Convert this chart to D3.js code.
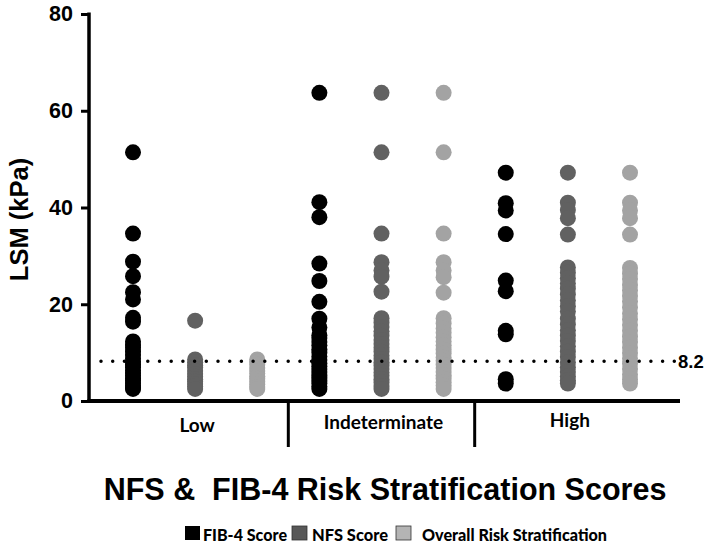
<!DOCTYPE html>
<html>
<head>
<meta charset="utf-8">
<script src="https://cdn.jsdelivr.net/npm/d3@7"></script>
<style>
  html, body { margin: 0; padding: 0; background: #fff; }
  svg { display: block; }
</style>
</head>
<body>
<svg id="chart" width="709" height="546"></svg>
<script>
// ---------------- DATA ----------------
const groups = ["Low", "Indeterminate", "High"];
const seriesNames = ["FIB-4 Score", "NFS Score", "Overall Risk Stratification"];
const yTicks = [0, 20, 40, 60, 80];
const cutoff = 8.2;

// LSM values (kPa) per group: [Low, Indeterminate, High]
const fib4Values = [
  [51.4, 34.6, 28.8, 25.8, 22.5, 21.0, 17.2, 16.4, 12.3, 11.6, 11.0, 10.2, 9.5, 8.8, 8.1, 7.5, 6.9, 6.3, 5.8, 5.2, 4.7, 4.2, 3.7, 3.2, 2.8, 2.5],
  [63.7, 41.1, 38.0, 28.4, 24.8, 20.5, 17.0, 15.2, 13.6, 13.0, 12.2, 11.5, 10.7, 10.0, 9.2, 8.5, 7.8, 7.2, 6.6, 6.0, 5.4, 4.8, 4.2, 3.6, 3.0, 2.5],
  [47.2, 40.9, 39.4, 34.5, 24.9, 22.7, 14.5, 13.8, 4.5, 3.6]
];
const nfsValues = [
  [16.6, 8.6, 8.0, 7.4, 6.9, 6.2, 5.6, 5.0, 4.5, 4.0, 3.5, 3.0, 2.5],
  [63.7, 51.4, 34.6, 28.7, 27.0, 25.7, 22.6, 17.1, 16.2, 15.3, 14.4, 13.5, 12.6, 11.8, 11.0, 10.2, 9.4, 8.7, 8.0, 7.3, 6.6, 5.9, 5.2, 4.5, 3.8, 3.1, 2.5],
  [47.2, 41.0, 39.5, 37.8, 34.4, 27.6, 26.5, 25.4, 24.3, 23.2, 22.0, 20.8, 19.6, 18.5, 17.0, 15.8, 14.6, 13.5, 12.4, 11.3, 10.2, 9.1, 8.0, 7.0, 6.0, 5.1, 4.3, 3.6]
];
const overallValues = [
  [8.6, 8.1, 7.5, 6.8, 6.2, 5.7, 5.1, 4.6, 4.0, 3.4, 2.9, 2.5],
  [63.7, 51.4, 34.6, 28.7, 27.0, 25.6, 22.4, 17.1, 16.0, 15.0, 14.1, 13.2, 12.3, 11.5, 10.6, 9.8, 9.0, 8.3, 7.5, 6.8, 6.0, 5.3, 4.6, 3.9, 3.2, 2.5],
  [47.2, 41.0, 39.4, 37.8, 34.4, 27.5, 26.3, 25.2, 24.0, 22.9, 21.7, 20.6, 19.4, 18.1, 16.9, 15.7, 14.5, 13.3, 12.2, 11.0, 9.9, 8.8, 7.7, 6.6, 5.5, 4.5, 3.6]
];

// ---------------- STYLE ----------------
const seriesColors = ["#000000", "#616161", "#a3a3a3"];
const legendFill = ["#000000", "#585858", "#b4b4b4"];
const dotRadius = 8;
const axisFont = "'Liberation Sans', Arial, sans-serif";
const labelFont = "Lato, 'Open Sans', sans-serif";

// ---------------- BUILD ----------------
const svg = d3.select("#chart");
const allSeries = [fib4Values, nfsValues, overallValues];

const columns = [];
groups.forEach((g, gi) => seriesNames.forEach((s, si) => columns.push({ g, gi, s, si, key: g + "|" + s, values: allSeries[si][gi] })));

const x = d3.scalePoint().domain(columns.map(c => c.key)).range([133, 630]);
const y = d3.scaleLinear().domain([0, 80]).range([401, 14]);

const axisLeftX = 89, axisRightX = 680;

// Dots
const dotsG = svg.append("g");
columns.forEach(c => {
  dotsG.selectAll(null)
    .data(c.values)
    .join("circle")
    .attr("cx", x(c.key))
    .attr("cy", d => y(d))
    .attr("r", dotRadius)
    .attr("fill", seriesColors[c.si]);
});

// Cut-off dotted line
svg.append("line")
  .attr("x1", 101).attr("x2", 675)
  .attr("y1", y(cutoff)).attr("y2", y(cutoff))
  .attr("stroke", "#000")
  .attr("stroke-width", 3.5)
  .attr("stroke-linecap", "round")
  .attr("stroke-dasharray", "0 11.7");
svg.append("text")
  .attr("x", 678).attr("y", y(cutoff))
  .attr("dy", "0.36em")
  .attr("font-family", axisFont)
  .attr("font-weight", "bold")
  .attr("font-size", 18.5)
  .text(String(cutoff));

// Y axis
const yAxis = d3.axisLeft(y).tickValues(yTicks).tickSize(8).tickPadding(8).tickFormat(d3.format("d"));
const yG = svg.append("g").attr("transform", `translate(${axisLeftX},0)`).call(yAxis);
yG.select(".domain").remove();
yG.append("line").attr("x1", 0).attr("x2", 0).attr("y1", y(80) - 1.5).attr("y2", y(0)).attr("stroke", "#000").attr("stroke-width", 3.5);
yG.selectAll(".tick line").attr("stroke", "#000").attr("stroke-width", 3);
yG.selectAll(".tick text")
  .attr("font-family", axisFont)
  .attr("font-weight", "bold")
  .attr("font-size", 21.5)
  .attr("fill", "#000");

// Y axis title
svg.append("text")
  .attr("transform", `translate(28,${(y(80) + y(0)) / 2 + 12}) rotate(-90)`)
  .attr("text-anchor", "middle")
  .attr("font-family", axisFont)
  .attr("font-weight", "bold")
  .attr("font-size", 25.5)
  .text("LSM (kPa)");

// X axis line
svg.append("line")
  .attr("x1", axisLeftX - 1.5).attr("x2", axisRightX)
  .attr("y1", y(0)).attr("y2", y(0))
  .attr("stroke", "#000").attr("stroke-width", 4);

// Group dividers
for (let gi = 0; gi < groups.length - 1; gi++) {
  const a = x(groups[gi] + "|" + seriesNames[2]);
  const b = x(groups[gi + 1] + "|" + seriesNames[0]);
  const xm = (a + b) / 2;
  svg.append("line")
    .attr("x1", xm).attr("x2", xm)
    .attr("y1", y(0)).attr("y2", 447)
    .attr("stroke", "#000").attr("stroke-width", 3);
}

// Group labels
const labelY = [432, 429, 427];
groups.forEach((g, gi) => {
  svg.append("text")
    .attr("x", x(g + "|" + seriesNames[1]) + 2)
    .attr("y", labelY[gi])
    .attr("text-anchor", "middle")
    .attr("font-family", labelFont)
    .attr("font-weight", "bold")
    .attr("font-size", 19)
    .text(g);
});

// Chart title
svg.append("text")
  .attr("x", 385).attr("y", 500)
  .attr("text-anchor", "middle")
  .attr("font-family", axisFont)
  .attr("font-weight", "bold")
  .attr("font-size", 30.5)
  .attr("xml:space", "preserve")
  .style("white-space", "pre")
  .text("NFS &  FIB-4 Risk Stratification Scores");

// Legend
const legendItems = [
  { sq: 185, tx: 203, w: 84 },
  { sq: 292, tx: 312, w: 76 },
  { sq: 396, tx: 422, w: 185 }
];
seriesNames.forEach((s, i) => {
  const it = legendItems[i];
  svg.append("rect")
    .attr("x", it.sq).attr("y", 526)
    .attr("width", 15).attr("height", 14)
    .attr("fill", legendFill[i])
    .attr("stroke", i === 0 ? "none" : "#333")
    .attr("stroke-width", 0.8);
  svg.append("text")
    .attr("x", it.tx).attr("y", 540.5)
    .attr("font-family", labelFont)
    .attr("font-weight", 900)
    .attr("font-size", 17.5)
    .attr("textLength", it.w)
    .attr("lengthAdjust", "spacingAndGlyphs")
    .text(s);
});
</script>
</body>
</html>
